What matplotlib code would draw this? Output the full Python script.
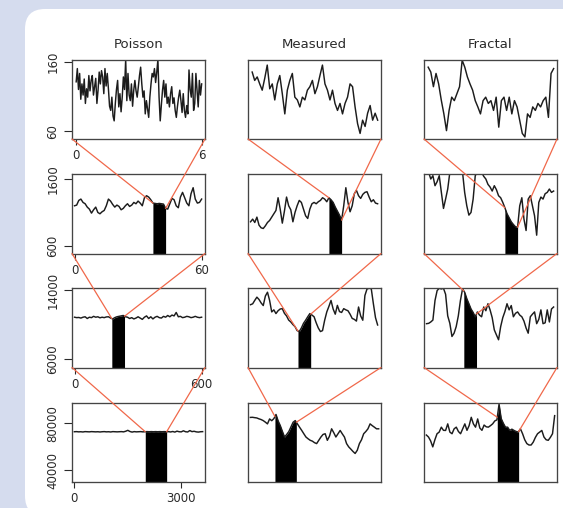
import numpy as np
import matplotlib
matplotlib.use("Agg")
import matplotlib.pyplot as plt
from matplotlib.patches import FancyBboxPatch, ConnectionPatch
from matplotlib.transforms import IdentityTransform

# ---------------- data ----------------
columns = ["Poisson", "Measured", "Fractal"]

# row 1: 0-6 s
poisson_r1 = [131, 150, 120, 143, 106, 128, 112, 135, 100, 121,
              109, 140, 118, 133, 140, 112, 124, 136, 100, 119,
              145, 128, 147, 138, 114, 150, 125, 143, 121, 96,
              90, 109, 82, 75, 100, 120, 133, 95, 114, 88,
              109, 138, 120, 163, 104, 143, 112, 104, 128, 96,
              119, 133, 118, 109, 124, 140, 152, 128, 109, 118,
              85, 104, 92, 80, 109, 128, 143, 138, 150, 130,
              145, 163, 109, 75, 98, 119, 133, 109, 128, 100,
              109, 95, 114, 124, 100, 108, 90, 80, 96, 109,
              119, 104, 87, 114, 90, 80, 97, 85, 148, 120,
              109, 143, 90, 100, 143, 119, 95, 133, 112, 128]
measured_r1 = [145, 133, 138, 128, 119, 136, 155, 121, 128, 105,
               128, 140, 114, 85, 119, 133, 143, 109, 105, 95,
               109, 105, 119, 124, 133, 114, 124, 140, 155, 128,
               119, 105, 119, 100, 90, 100, 85, 100, 109, 128,
               124, 95, 71, 57, 76, 67, 86, 97, 76, 86, 76]
fractal_r1 = [152, 145, 124, 143, 128, 105, 85, 61, 90, 109,
              104, 114, 124, 162, 152, 138, 128, 119, 104, 95,
              85, 104, 109, 100, 104, 90, 109, 66, 104, 109,
              90, 109, 85, 104, 95, 76, 57, 52, 85, 80,
              95, 90, 100, 95, 104, 109, 80, 143, 150]

# row 2: 0-60 s
poisson_r2 = [1200, 1210, 1280, 1300, 1250, 1230, 1180, 1150, 1090, 1140,
              1180, 1100, 1080, 1110, 1130, 1200, 1300, 1270, 1220, 1180,
              1210, 1190, 1140, 1160, 1200, 1230, 1190, 1210, 1250, 1230,
              1270, 1240, 1200, 1320, 1350, 1330, 1290, 1240, 1235, 1230,
              1235, 1230, 1225, 1160, 1150, 1230, 1310, 1290, 1200, 1170,
              1330, 1400, 1320, 1240, 1200, 1380, 1470, 1300, 1240, 1250, 1300]
measured_r2 = [960, 1000, 950, 1030, 910, 870, 860, 900, 950, 980,
               1030, 1080, 1130, 1320, 1150, 940, 1120, 1330, 1200, 1140,
               960, 1100, 1200, 1280, 1250, 1150, 1050, 1010, 1150, 1230,
               1250, 1230, 1260, 1280, 1320, 1300, 1260, 1320, 1290, 1250,
               1180, 1120, 1060, 985, 1200, 1470, 1250, 1110, 1200, 1380,
               1430, 1350, 1310, 1370, 1400, 1410, 1330, 1260, 1290, 1240, 1230]
fractal_r2 = [1720, 1700, 1600, 1650, 1500, 1560, 1650, 1400, 1160, 1300,
              1450, 1700, 1750, 1720, 1700, 1760, 1720, 1700, 1400, 1200,
              1060, 1100, 1300, 1650, 1700, 1720, 1700, 1640, 1600, 1520,
              1480, 1420, 1500, 1440, 1350, 1320, 1250, 1170, 1080, 1020,
              960, 920, 885, 880, 1200, 1320, 1000, 830, 1300, 1350,
              1200, 1050, 760, 1250, 1330, 1300, 1380, 1400, 1450, 1400, 1420]

# row 3: 0-600 s
poisson_r3 = [10850, 10800, 10820, 10750, 10850, 10900, 10700, 10850, 10800, 10950,
              10850, 10900, 10780, 10850, 10800, 10880, 10900, 10760, 10650, 10800,
              10900, 10950, 11000, 11050, 10900, 10850, 10700, 10800, 10650, 10750,
              10900, 10750, 10600, 10850, 11000, 10700, 10900, 10650, 10850, 10950,
              10800, 10750, 10950, 10850, 11050, 10900, 11100, 11000, 11400, 10900,
              10950, 10800, 10850, 10950, 10900, 10800, 10850, 10950, 10850, 10800, 10850]
measured_r3 = [12300, 12400, 12800, 13170, 12900, 12500, 12200, 13300, 13740, 12800,
               11460, 11700, 11270, 11600, 11800, 11840, 11300, 11000, 10520, 10300,
               10000, 9760, 9300, 9190, 9600, 10140, 10500, 10900, 11270, 11100,
               10900, 10200, 9600, 9190, 9300, 10500, 11460, 12100, 12790, 11800,
               11200, 12220, 11500, 11400, 11840, 11700, 11600, 11200, 10710, 10600,
               10400, 12030, 11000, 10500, 13360, 14120, 14200, 14150, 12410, 10800, 9950]
fractal_r3 = [10100, 10140, 10300, 10520, 12790, 13930, 14200, 14120, 14200, 13500,
              11000, 10140, 8620, 9000, 9760, 11000, 12790, 14120, 13740, 13000,
              12410, 11800, 11400, 10900, 11460, 11100, 10900, 12030, 11600, 12410,
              11700, 10800, 9380, 8800, 8240, 9760, 10800, 11500, 12410, 11700,
              12200, 10900, 11300, 11460, 11100, 10900, 10400, 9600, 9000, 10900,
              11200, 11460, 10100, 10600, 11700, 10100, 10200, 11700, 10300, 11800, 12030]

# row 4: 0-3600 s
poisson_r4 = [72800, 72900, 72700, 72800, 72600, 72900, 72800, 72700, 72900, 72800,
              72700, 72800, 72600, 72800, 72900, 72700, 72800, 72600, 72900, 72800,
              72700, 72800, 72900, 72700, 73200, 74000, 73000, 72500, 72900, 72700,
              72800, 72900, 72700, 72800, 72900, 72800, 72900, 72800, 72900, 72800,
              72900, 72800, 72900, 72800, 72900, 72600, 73000, 72500, 73300, 72800,
              72700, 73600, 72800, 72600, 73800, 72900, 73200, 72700, 72500, 72800, 72900]
measured_r4 = [85000, 85100, 84800, 84550, 83800, 83200, 82300, 81000, 79500, 83700,
               82200, 84000, 87500, 82000, 78000, 73000, 68300, 70500, 73000, 77000,
               80900, 82300, 79500, 76700, 74000, 71100, 68300, 66800, 65500, 64800,
               63500, 62700, 65500, 68300, 70500, 71100, 65500, 69000, 75300, 72000,
               68300, 71100, 73900, 71000, 68300, 62700, 59900, 58000, 56000, 54300,
               57000, 62700, 66000, 71100, 73000, 75300, 79500, 78000, 76700, 75300, 75300]
fractal_r4 = [70000, 68300, 65000, 59900, 66000, 71100, 72500, 76700, 74000, 73900,
              79500, 72500, 71100, 75300, 76700, 73000, 71100, 75300, 79500, 74000,
              78000, 85100, 79500, 76700, 83700, 76000, 74000, 78500, 77000, 76700,
              78000, 79500, 82000, 82900, 96300, 84000, 80000, 76700, 76700, 73900,
              75000, 73900, 73000, 72500, 75300, 71100, 66000, 62700, 61500, 61500,
              64000, 68000, 71100, 72500, 73900, 68300, 66000, 65500, 68000, 71100, 86500]

series = [[poisson_r1, measured_r1, fractal_r1],
          [poisson_r2, measured_r2, fractal_r2],
          [poisson_r3, measured_r3, fractal_r3],
          [poisson_r4, measured_r4, fractal_r4]]

x_ends = [6, 60, 600, 3600]
x_limits = [(-0.2, 6.16), (-1.2, 61.6), (-12, 616), (-66, 3666)]
y_limits = [(49, 163), (486, 1675), (5030, 14230), (30000, 97700)]
x_ticks = [[0, 6], [0, 60], [0, 600], [0, 3000]]
y_ticks = [[60, 160], [600, 1600], [6000, 14000], [40000, 80000]]

# window of each panel that is blown up in the panel above it (rows 2-4)
segments = [None,
            [(37, 43), (37, 43), (37, 43)],
            [(176, 236), (224, 284), (176, 236)],
            [(1990, 2590), (690, 1290), (1990, 2590)]]

# ---------------- layout (pixels) ----------------
W, H = 563, 508
col_left = [72, 248, 424]
box_w = 133
row_top = [59.5, 174, 288, 402.5]
box_h = 79.5

bg_blue = "#d5dcee"
orange = "#f0684a"
ink = "#2a2a2a"

plt.rcParams["font.family"] = ["DejaVu Sans"]

fig = plt.figure(figsize=(W / 100, H / 100), dpi=100, facecolor=bg_blue)

# white rounded card
card = FancyBboxPatch((25, -8), 620, H - 9 + 8, boxstyle="round,pad=0,rounding_size=20",
                      transform=IdentityTransform(), facecolor="white", edgecolor="none",
                      zorder=-10)
fig.patches.append(card)

axes = []
for r in range(4):
    row_axes = []
    for c in range(3):
        ax = fig.add_axes([col_left[c] / W, (H - row_top[r] - box_h) / H, box_w / W, box_h / H])
        y = np.array(series[r][c], dtype=float)
        x = np.linspace(0, x_ends[r], len(y))
        ax.plot(x, y, color="#1c1c1c", lw=1.05)

        ax.set_xlim(*x_limits[r])
        ax.set_ylim(*y_limits[r])

        if segments[r] is not None:
            a, b = segments[r][c]
            inner = x[(x > a) & (x < b)]
            sx = np.concatenate([[a], inner, [b]])
            sy = np.interp(sx, x, y)
            ax.fill_between(sx, sy, y_limits[r][0], color="black", lw=0)

        for s in ax.spines.values():
            s.set_color("#444444")
            s.set_linewidth(0.95)

        if c == 0:
            ax.set_xticks(x_ticks[r])
            ax.set_yticks(y_ticks[r])
            ax.set_yticklabels([str(v) for v in y_ticks[r]], rotation=90, va="center")
            ax.tick_params(axis="x", length=4.5, width=0.8, pad=3, colors=ink, labelsize=8.5)
            ax.tick_params(axis="y", length=6, width=0.8, pad=3, colors=ink, labelsize=8.5)
        else:
            ax.set_xticks([])
            ax.set_yticks([])

        if r == 0:
            ax.set_title(columns[c], fontsize=9.5, color=ink, pad=8)
        row_axes.append(ax)
    axes.append(row_axes)

# orange zoom lines from the lower corners of a panel to its window in the panel below
for r in range(1, 4):
    for c in range(3):
        upper = axes[r - 1][c]
        lower = axes[r][c]
        y = np.array(series[r][c], dtype=float)
        x = np.linspace(0, x_ends[r], len(y))
        a, b = segments[r][c]
        for corner, xv in [((0, 0), a), ((1, 0), b)]:
            con = ConnectionPatch(xyA=corner, coordsA=upper.transAxes,
                                  xyB=(xv, np.interp(xv, x, y)), coordsB=lower.transData,
                                  color=orange, lw=0.9, zorder=5)
            fig.add_artist(con)

fig.savefig("out.png", dpi=100, facecolor=bg_blue)
